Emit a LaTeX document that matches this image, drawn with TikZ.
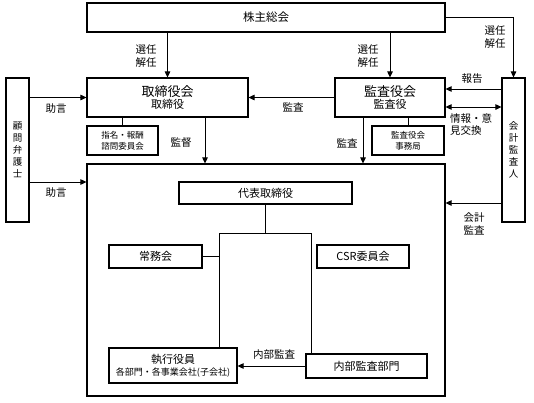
\documentclass[tikz,border=0pt]{standalone}
\usepackage{fontspec}
\setmainfont{Noto Sans CJK JP}
\usetikzlibrary{arrows.meta}
\begin{document}
\begin{tikzpicture}[x=1pt,y=-1pt,
  box/.style={draw,line width=1.1pt,inner sep=0pt,align=center},
  ln/.style={line width=0.9pt},
  arr/.style={ln,-{Triangle[length=6pt,width=5.5pt]}},
  darr/.style={ln,{Triangle[length=6pt,width=5.5pt]}-{Triangle[length=6pt,width=5.5pt]}},
  lbl/.style={font=\fontsize{10.5}{12.5}\selectfont,align=center,inner sep=0pt},
  big/.style={font=\fontsize{11}{13}\selectfont},
  small/.style={font=\fontsize{8.5}{11}\selectfont},
  vert/.style={font=\fontsize{9.5}{12}\selectfont}]
\path[use as bounding box,fill=white] (0,0) rectangle (534,402);

% boxes
\node[box,big,minimum width=358pt,minimum height=29pt,font=\fontsize{11.5}{13}\selectfont] (sh) at (266,17.5) {株主総会};
\node[box,minimum width=161pt,minimum height=39pt] (tb) at (167.5,97.5) {{\fontsize{13}{15}\selectfont 取締役会}\\{\fontsize{11}{12}\selectfont 取締役}};
\node[box,minimum width=110pt,minimum height=39pt] (ka) at (390,97.5) {{\fontsize{13}{15}\selectfont 監査役会}\\{\fontsize{11}{12}\selectfont 監査役}};
\node[box,vert,minimum width=23pt,minimum height=144pt] (kk) at (17.5,150) {顧\\問\\弁\\護\\士};
\node[box,vert,minimum width=23pt,minimum height=144pt] (ai) at (513.5,150) {会\\計\\監\\査\\人};
\node[box,small,minimum width=71pt,minimum height=29pt] (sm) at (122.5,140.5) {指名・報酬\\諮問委員会};
\node[box,small,minimum width=72pt,minimum height=29pt] (kj) at (408,140.5) {監査役会\\事務局};
\node[box,minimum width=358pt,minimum height=232pt] (bg) at (266,280) {};
\node[box,big,minimum width=173pt,minimum height=22pt] (dt) at (265.5,193) {代表取締役};
\node[box,big,minimum width=93pt,minimum height=23pt] (jm) at (155.5,256.5) {常務会};
\node[box,big,minimum width=92pt,minimum height=23pt] (csr) at (363,256.5) {CSR委員会};
\node[box,minimum width=128pt,minimum height=35pt] (sy) at (173,365.5) {{\fontsize{11}{13}\selectfont 執行役員}\\{\fontsize{9}{11}\selectfont 各部門・各事業会社(子会社)}};
\node[box,big,minimum width=121pt,minimum height=24pt] (nb) at (366.5,366) {内部監査部門};

% connectors
\draw[arr] (sh.south -| tb.north) -- (tb.north);
\draw[arr] (sh.south -| ka.north) -- (ka.north);
\draw[arr] (sh.east) -| (ai.north);
\draw[arr] (kk.east |- tb.west) -- (tb.west);
\draw[arr] (kk.east |- 0,182) -- (bg.west |- 0,182);
\draw[arr] (ka.west) -- (tb.east);
\draw[arr] (ai.west |- 0,89) -- (ka.east |- 0,89);
\draw[darr] (ka.east |- 0,107) -- (ai.west |- 0,107);
\draw[arr] (tb.south -| 205,0) -- (bg.north -| 205,0);
\draw[ln] (tb.south -| sm.north) -- (sm.north);
\draw[arr] (ka.south -| 363,0) -- (bg.north -| 363,0);
\draw[ln] (ka.south -| kj.north) -- (kj.north);
\draw[arr] (ai.west |- 0,203) -- (bg.east |- 0,203);
\coordinate (jl) at (219,233);
\coordinate (jr) at (311,233);
\draw[ln] (dt.south) -- (dt.south |- jl);
\draw[ln] (sy.north -| jl) -- (jl) -- (jr) -- (nb.north -| jr);
\draw[ln] (jm.east) -- (jm.east -| jl);
\draw[arr] (nb.west) -- (nb.west -| sy.east);

% labels
\node[lbl] (l1) at (146,56) {選任\\解任};
\node[lbl] (l2) at (368,56) {選任\\解任};
\node[lbl] (l3) at (495,37) {選任\\解任};
\node[lbl] (l4) at (56,109) {助言};
\node[lbl] (l5) at (56,193) {助言};
\node[lbl] (l6) at (293,107) {監査};
\node[lbl] (l7) at (181,143) {監督};
\node[lbl] (l8) at (347,143) {監査};
\node[lbl] (l9) at (472,79) {報告};
\node[lbl,align=left,anchor=north west] (l10) at (450,113) {情報・意\\見交換};
\node[lbl] (l11) at (474,224) {会計\\監査};
\node[lbl] (l12) at (274,355) {内部監査};
\end{tikzpicture}
\end{document}
